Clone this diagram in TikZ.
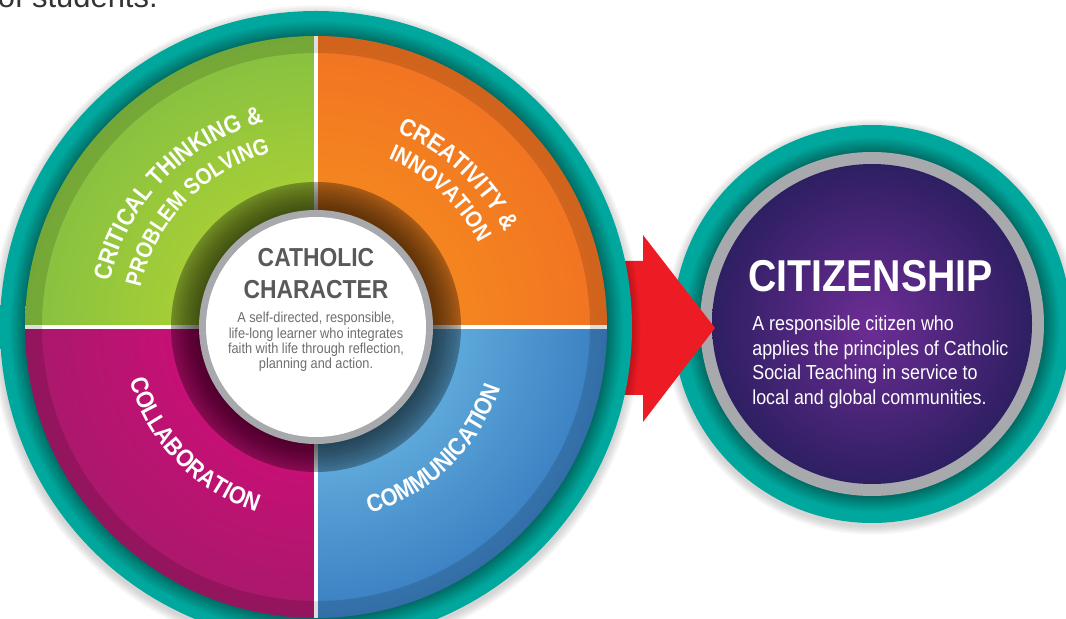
\documentclass[tikz,border=0pt]{standalone}
\usepackage{fontspec}
\setmainfont{Liberation Sans}[FakeStretch=0.88]
\newfontfamily\pagefont{Liberation Sans}
\usepackage{tikz}
\usetikzlibrary{decorations.text}
\usetikzlibrary{calc}

\definecolor{wheelteal}{HTML}{00A79D}
\definecolor{wheeltealdark}{HTML}{006B63}
\definecolor{greenin}{HTML}{C4DB2C}
\definecolor{greenout}{HTML}{85C041}
\definecolor{orangein}{HTML}{F8961D}
\definecolor{orangeout}{HTML}{F17322}
\definecolor{magentain}{HTML}{E2077F}
\definecolor{magentaout}{HTML}{A8196B}
\definecolor{bluein}{HTML}{7FD0F2}
\definecolor{blueout}{HTML}{3A7EC1}
\definecolor{ringgrey}{HTML}{A7A9AC}
\definecolor{chargrey}{HTML}{58595B}
\definecolor{descgrey}{HTML}{6D6E71}
\definecolor{purplein}{HTML}{6D2D95}
\definecolor{purpleout}{HTML}{2E1F62}
\definecolor{arrowred}{HTML}{ED1C24}

\pgfdeclareradialshading{wheelring}{\pgfpointorigin}{color(0bp)=(wheeltealdark); color(23bp)=(wheeltealdark); color(24.3bp)=(wheelteal); color(50bp)=(wheelteal)}
\pgfdeclareradialshading{citzring}{\pgfpointorigin}{color(0bp)=(wheeltealdark); color(21.6bp)=(wheeltealdark); color(23.6bp)=(wheelteal); color(50bp)=(wheelteal)}

\newcommand\labelfont{\fontsize{14pt}{14pt}\selectfont\bfseries\color{white}}
\newcommand\innerlabelfont{\fontsize{13pt}{13pt}\selectfont\bfseries\color{white}}

\tikzset{
  quadlabel/.style={decorate, decoration={text along path, text align=center}},
  divider/.style={white, line width=2.3pt},
  softshadow/.style={black, opacity=.018}
}

\begin{document}
\begin{tikzpicture}[x=0.02cm,y=0.02cm]
  \useasboundingbox (0,0) rectangle (1066,619);
  \coordinate (wheel) at (316,292);
  \coordinate (citz) at (872,295);

  \node[font=\pagefont\fontsize{17.6pt}{17.6pt}\selectfont, text=black!80, anchor=base east, inner sep=0] (prevline) at (158,611) {of students.};

  \foreach \d in {1,...,9} \fill[softshadow] ($(citz)+(0,-3)$) circle[radius=199+\d];
  \shade[shading=citzring] (citz) circle (199);
  \fill[ringgrey] (citz) circle (172);
  \shade[inner color=purplein, outer color=purpleout] (citz) circle (160);
  \node[font=\fontsize{25.4pt}{25.4pt}\selectfont\bfseries, text=white, anchor=base west, inner sep=0] (citztitle) at (748,327) {CITIZENSHIP};
  \node[font=\fontsize{11.55pt}{14.2pt}\selectfont, text=white, align=left, anchor=north west, inner sep=0] (citzdesc) at (752,304) {A responsible citizen who\\applies the principles of Catholic\\Social Teaching in service to\\local and global communities.};

  \coordinate (arrowtip) at (715,291);
  \fill[arrowred] (590,358) -- (643,358) -- (643,384) -- (arrowtip) -- (643,197) -- (643,224) -- (590,224) -- cycle;

  \foreach \d in {1,...,9} \fill[softshadow] ($(wheel)+(0,-3)$) circle[radius=316+\d];
  \shade[shading=wheelring] (wheel) circle (316);
  \foreach \a/\qin/\qout in {90/greenin/greenout, 0/orangein/orangeout, 180/magentain/magentaout, 270/bluein/blueout} {
    \begin{scope}
      \clip (wheel) -- ++(\a:291) arc[start angle=\a, end angle=\a+90, radius=291] -- cycle;
      \shade[inner color=\qin, outer color=\qout] (wheel) circle (291);
    \end{scope}
  }
  \draw[divider] (wheel) ++(-291,0) -- ++(582,0);
  \draw[divider] (wheel) ++(0,-291) -- ++(0,582);
  \fill[black, opacity=.13, even odd rule] (wheel) circle (291) circle (274);
  \fill[black, opacity=.32, even odd rule] (wheel) circle (145) circle (116);
  \foreach \r in {143,141,...,119}
    \fill[black, opacity=.035, even odd rule] (wheel) circle[radius=\r] circle (116);
  \fill[ringgrey] (wheel) circle (117);
  \fill[white] (wheel) circle (110);

  \node[font=\fontsize{14.8pt}{18.2pt}\selectfont\bfseries, text=chargrey, align=center, inner sep=0] (chartitle) at (316,345.5) {CATHOLIC\\CHARACTER};
  \node[font=\fontsize{8.25pt}{8.8pt}\selectfont, text=descgrey, align=center, inner sep=0] (chardesc) at (316,277) {A self-directed, responsible,\\life-long learner who integrates\\faith with life through reflection,\\planning and action.};

  \path[quadlabel, decoration={text={|\labelfont|CRITICAL THINKING {\&}}}] (wheel) ++(176:211) arc[start angle=176, end angle=96, radius=211];
  \path[quadlabel, decoration={text={|\innerlabelfont|PROBLEM SOLVING}}] (wheel) ++(176:180) arc[start angle=176, end angle=96, radius=180];
  \path[quadlabel, decoration={text={|\labelfont|CREATIVITY {\&}}}] (wheel) ++(87:211) arc[start angle=87, end angle=7, radius=211];
  \path[quadlabel, decoration={text={|\innerlabelfont|INNOVATION}}] (wheel) ++(87:183) arc[start angle=87, end angle=7, radius=183];
  \path[quadlabel, decoration={text={|\labelfont|COLLABORATION}}] (wheel) ++(184:194) arc[start angle=184, end angle=264, radius=194];
  \path[quadlabel, decoration={text={|\labelfont|COMMUNICATION}}] (wheel) ++(274:194) arc[start angle=274, end angle=354, radius=194];
\end{tikzpicture}
\end{document}
